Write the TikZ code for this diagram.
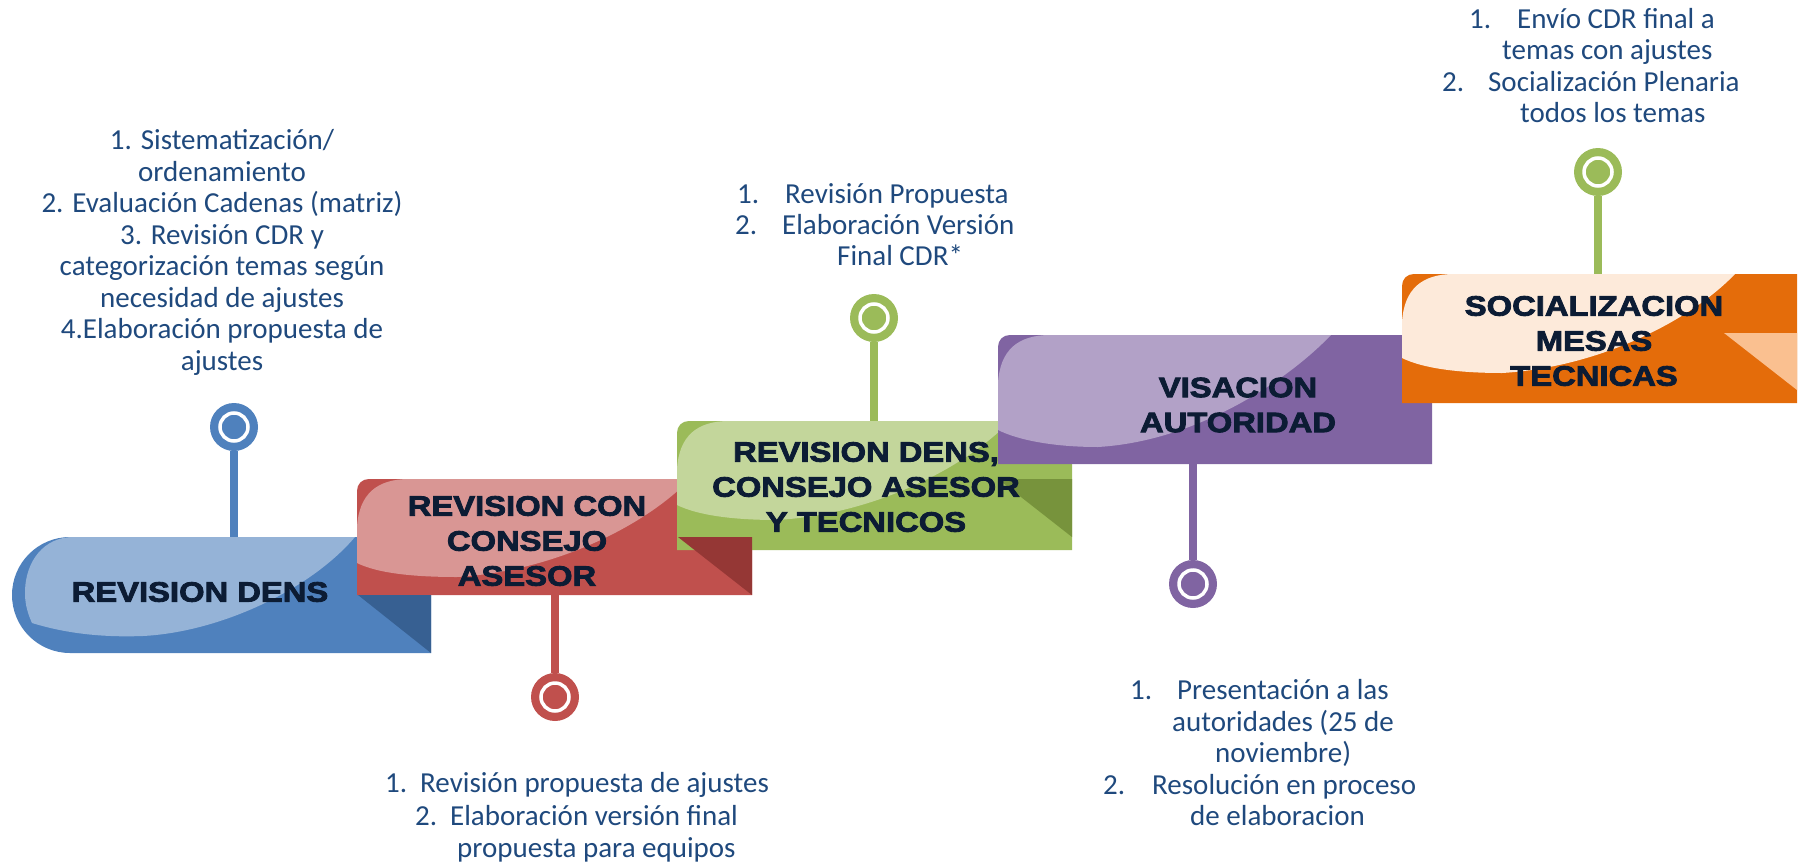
\documentclass[tikz,border=0pt]{standalone}
\usepackage{fontspec}
\newfontfamily\titlefont{Liberation Sans}[FakeStretch=1.17,BoldFeatures={FakeBold=3}]
\newfontfamily\bodyfont{Carlito}
\definecolor{blueD}{HTML}{4F81BD}\definecolor{blueL}{HTML}{95B3D7}\definecolor{blueF}{HTML}{376092}
\definecolor{redD}{HTML}{C0504D}\definecolor{redL}{HTML}{D99694}\definecolor{redF}{HTML}{953735}
\definecolor{grnD}{HTML}{9BBB59}\definecolor{grnL}{HTML}{C3D69B}\definecolor{grnF}{HTML}{77933C}
\definecolor{purD}{HTML}{8064A2}\definecolor{purL}{HTML}{B2A1C7}
\definecolor{orgD}{HTML}{E46C0A}\definecolor{orgL}{HTML}{FDEADA}\definecolor{orgF}{HTML}{FAC090}
\definecolor{titleC}{RGB}{12,28,52}
\definecolor{bodyC}{HTML}{1F497D}
\tikzset{
  ttl/.style={font=\titlefont\bfseries\fontsize{28}{35}\selectfont, text=titleC, align=center, inner sep=0pt},
  bodytxt/.style={font=\bodyfont\fontsize{29}{31.5}\selectfont, text=bodyC, inner sep=0pt},
  pinc/.style={circle, fill=#1, minimum size=48pt, inner sep=0pt},
  pinl/.style={draw=#1, line width=7.5pt},
  ring/.style={draw=white, line width=3.5pt},
}
% #1 L, #2 T, #3 W, #4 H, #5 a, #6 b, #7 dark, #8 light
\newcommand\stepblk[8]{%
  \begin{scope}[shift={(#1,#2)}]
    \fill[#7] (0,#4) -- (0,12) .. controls (0,5) and (5,0) .. (12,0) -- (#3,0) -- (#3,#4) -- cycle;
    \fill[#8] (0,#5) -- (0,48) .. controls (2,15) and (20,0) .. (52,0) -- (333,0)
      .. controls (290,45) and (200,#6-6) .. (100,#6) .. controls (55,#6) and (20,#5+10) .. (0,#5) -- cycle;
  \end{scope}}
\begin{document}
\begin{tikzpicture}[x=1pt,y=-1pt]
\useasboundingbox (0,0) rectangle (1801,862);
% blue block
\fill[blueD] (70,537) -- (431,537) -- (431,653) -- (70,653)
  .. controls (38,653) and (12,627) .. (12,595) .. controls (12,563) and (38,537) .. (70,537) -- cycle;
\fill[blueL] (73,537) -- (355,537) .. controls (310,590) and (220,632) .. (143,636)
  .. controls (90,638) and (55,630) .. (32,623) .. controls (26,610) and (25,600) .. (25,593)
  .. controls (25,560) and (45,537) .. (73,537) -- cycle;
\stepblk{357}{479}{395}{116}{84}{98}{redD}{redL}
\stepblk{677}{421}{395}{129}{84}{99}{grnD}{grnL}
\stepblk{998}{335}{434}{129}{95}{112}{purD}{purL}
\stepblk{1402}{274}{395}{129}{84}{99}{orgD}{orgL}
% folds
\fill[blueF] (358,595) -- (431,595) -- (431,653) -- cycle;
\fill[redF] (678,537) -- (752,537) -- (752,595) -- cycle;
\fill[grnF] (998,479) -- (1072,479) -- (1072,537) -- cycle;
\fill[orgF] (1724,333) -- (1797,333) -- (1797,390) -- cycle;
% attachment points
\coordinate (b1) at (234,537);
\coordinate (b2) at (555,595);
\coordinate (b3) at (874,421);
\coordinate (b4) at (1193,464);
\coordinate (b5) at (1598,274);
% pins
\node[pinc=blueD] (p1) at (234,427) {};
\draw[pinl=blueD] (p1) -- (b1);
\draw[ring] (p1.center) circle[radius=14pt];
\node[pinc=redD] (p2) at (555,697) {};
\draw[pinl=redD] (p2) -- (b2);
\draw[ring] (p2.center) circle[radius=14pt];
\node[pinc=grnD] (p3) at (874,318) {};
\draw[pinl=grnD] (p3) -- (b3);
\draw[ring] (p3.center) circle[radius=14pt];
\node[pinc=purD] (p4) at (1193,584) {};
\draw[pinl=purD] (p4) -- (b4);
\draw[ring] (p4.center) circle[radius=14pt];
\node[pinc=grnD] (p5) at (1598,172) {};
\draw[pinl=grnD] (p5) -- (b5);
\draw[ring] (p5.center) circle[radius=14pt];
% titles
\node[ttl] (t1) at (200,592) {REVISION DENS};
\node[ttl] (t2) at (527,541) {REVISION CON\\CONSEJO\\ASESOR};
\node[ttl] (t3) at (866,487) {REVISION DENS,\\CONSEJO ASESOR\\Y TECNICOS};
\node[ttl] (t4) at (1238,405) {VISACION\\AUTORIDAD};
\node[ttl] (t5) at (1594,341) {SOCIALIZACION\\MESAS\\TECNICAS};
% text 1
\node[bodytxt, anchor=base] (a1) at (222,149.5) {1.\hspace{9pt}Sistematización/};
\node[bodytxt, anchor=base] (a2) at (222,181) {ordenamiento};
\node[bodytxt, anchor=base] (a3) at (222,212.5) {2. Evaluación Cadenas (matriz)};
\node[bodytxt, anchor=base] (a4) at (222,244) {3. Revisión CDR y};
\node[bodytxt, anchor=base] (a5) at (222,275.5) {categorización temas según};
\node[bodytxt, anchor=base] (a6) at (222,307) {necesidad de ajustes};
\node[bodytxt, anchor=base] (a7) at (222,338.5) {4.Elaboración propuesta de};
\node[bodytxt, anchor=base] (a8) at (222,370) {ajustes};
% text 2
\node[bodytxt, anchor=base west] (c1) at (737,203) {\makebox[48pt][l]{1.}Revisión Propuesta};
\node[bodytxt, anchor=base west] (c2) at (735,234) {\makebox[47pt][l]{2.}Elaboración Versión};
\node[bodytxt, anchor=base west] (c3) at (837,265) {Final CDR*};
% text 3
\node[bodytxt, anchor=base west] (e1) at (1469,28) {\makebox[48pt][l]{1.}Envío CDR final a};
\node[bodytxt, anchor=base west] (e2) at (1502,59.5) {temas con ajustes};
\node[bodytxt, anchor=base west] (e3) at (1442,91) {\makebox[46pt][l]{2.}Socialización Plenaria};
\node[bodytxt, anchor=base west] (e4) at (1520,122.5) {todos los temas};
% text 4
\node[bodytxt, anchor=base west] (d1) at (1130,699) {\makebox[47pt][l]{1.}Presentación a las};
\node[bodytxt, anchor=base west] (d2) at (1172,731) {autoridades (25 de};
\node[bodytxt, anchor=base west] (d3) at (1215,762) {noviembre)};
\node[bodytxt, anchor=base west] (d4) at (1103,794) {\makebox[49pt][l]{2.}Resolución en proceso};
\node[bodytxt, anchor=base west] (d5) at (1190,825) {de elaboracion};
% text 5
\node[bodytxt, anchor=base west] (r1) at (385,792) {\makebox[35pt][l]{1.}Revisión propuesta de ajustes};
\node[bodytxt, anchor=base west] (r2) at (415,825) {\makebox[35pt][l]{2.}Elaboración versión final};
\node[bodytxt, anchor=base west] (r3) at (457,857) {propuesta para equipos};
\end{tikzpicture}
\end{document}
